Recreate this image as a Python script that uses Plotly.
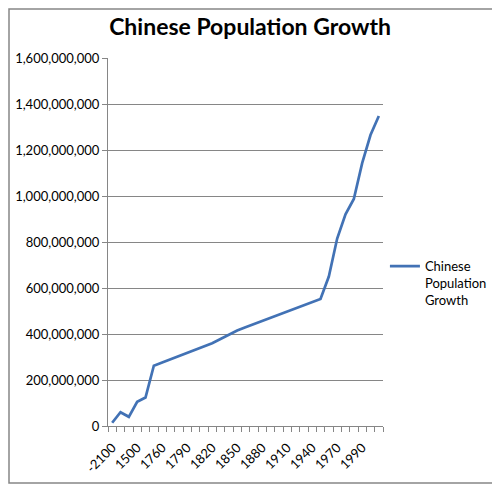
import plotly.graph_objects as go

# Chinese population by year (categories are unevenly spaced, like the source sheet)
years = ["-2100", "2", "1000", "1500", "1600", "1750", "1760", "1770", "1780",
         "1790", "1800", "1810", "1820", "1830", "1840", "1850", "1860", "1870",
         "1880", "1890", "1900", "1910", "1920", "1930", "1940", "1950", "1960",
         "1970", "1975", "1980", "1990", "2000", "2009"]
population = [14e6, 60e6, 40e6, 105e6, 124e6, 262e6, 276e6, 290e6, 304e6,
              318e6, 333e6, 347e6, 360e6, 378e6, 398e6, 415e6, 429e6, 443e6,
              456e6, 470e6, 484e6, 498e6, 512e6, 525e6, 538e6, 552e6, 650e6,
              815e6, 920e6, 987e6, 1143e6, 1265e6, 1348e6]
y_ticks = [0, 200e6, 400e6, 600e6, 800e6, 1000e6, 1200e6, 1400e6, 1600e6]

idx = list(range(len(years)))
label_idx = idx[::3]

fig = go.Figure()
fig.add_trace(go.Scatter(
    x=idx, y=population, mode="lines",
    name="Chinese<br>Population<br>Growth",
    line=dict(color="#4272b5", width=2.7),
))

grey = "#868686"
# page body adds an 8px offset, so the figure is 8px smaller and shifted
fig.update_layout(
    width=492, height=478,
    margin=dict(l=100, r=117, t=50, b=60, autoexpand=False),
    paper_bgcolor="white", plot_bgcolor="white",
    font=dict(family="Lato, Carlito, sans-serif", size=13, color="black"),
    title=dict(text="<b>Chinese Population Growth</b>", x=0.492, xanchor="center",
               y=0.96, yanchor="middle", xref="container",
               font=dict(size=23, color="black")),
    showlegend=True,
    legend=dict(x=1.007, xanchor="left", y=0.475, yanchor="top", valign="top",
                font=dict(size=13), bgcolor="rgba(0,0,0,0)", itemwidth=30),
    xaxis=dict(
        range=[-0.5, len(years) - 0.5],
        tickmode="array", tickvals=label_idx,
        ticktext=[years[i] for i in label_idx],
        tickangle=-45, ticks="", showgrid=False, ticklabelstandoff=8,
        showline=True, linecolor=grey, linewidth=1,
        minor=dict(ticks="outside", tick0=-0.5, dtick=1, ticklen=5,
                   tickcolor=grey, showgrid=False),
        zeroline=False, automargin=False,
    ),
    yaxis=dict(
        range=[0, 1600e6], tickvals=y_ticks, tickformat=",",
        ticks="outside", ticklen=5, tickcolor=grey,
        showgrid=True, gridcolor=grey, gridwidth=1,
        showline=True, linecolor=grey, linewidth=1,
        zeroline=False, automargin=False,
    ),
    shapes=[dict(type="rect", xref="paper", yref="paper",
                 x0=-0.36, x1=1.418, y0=-0.155, y1=1.133,
                 line=dict(color=grey, width=1.5), fillcolor="rgba(0,0,0,0)")],
)

fig.write_html("out.html")
